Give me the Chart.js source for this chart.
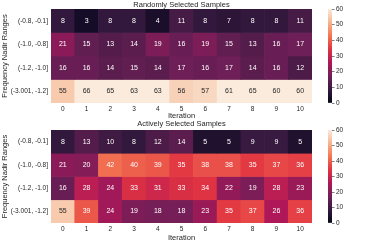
<!DOCTYPE html>
<html>
<head>
<meta charset="utf-8">
<script src="https://cdn.jsdelivr.net/npm/chart.js@4"></script>
<style>
  body { margin: 0; background: #fff; width: 378px; height: 243px; position: relative; overflow: hidden; }
  canvas { position: absolute; }
</style>
</head>
<body>
<canvas id="randomChart" width="320" height="125" style="left:0;top:0"></canvas>
<canvas id="randomBar" width="58" height="125" style="left:320px;top:0"></canvas>
<canvas id="activeChart" width="320" height="125" style="left:0;top:118px"></canvas>
<canvas id="activeBar" width="58" height="125" style="left:320px;top:118px"></canvas>
<script>
const iterations = ['0', '1', '2', '3', '4', '5', '6', '7', '8', '9', '10'];
const rowLabels = ['(-0.8, -0.1]', '(-1.0, -0.8]', '(-1.2, -1.0]', '(-3.001, -1.2]'];

const randomCounts = [
    [8, 3, 8, 8, 4, 11, 8, 7, 8, 8, 11],
    [21, 15, 13, 14, 19, 16, 19, 15, 13, 16, 17],
    [16, 16, 14, 15, 14, 17, 16, 17, 14, 16, 12],
    [55, 66, 65, 63, 63, 56, 57, 61, 65, 60, 60]
];

const activeCounts = [
    [8, 13, 10, 8, 12, 14, 5, 5, 9, 9, 5],
    [21, 20, 42, 40, 39, 35, 38, 38, 35, 37, 36],
    [16, 28, 24, 33, 31, 33, 34, 22, 19, 28, 23],
    [55, 39, 24, 19, 18, 18, 23, 35, 37, 26, 36]
];

const colorTicks = [0, 10, 20, 30, 40, 50, 60];
const vmin = 0;
const vmax = 60;

// rocket colormap, sampled
const rocketStops = ['#03051a', '#35193e', '#701f57', '#ad1759', '#e13342', '#f37651', '#f6b48f', '#faebdd'];
const textColor = '#262626';

Chart.defaults.font.family = 'Liberation Sans';
Chart.defaults.color = textColor;
Chart.defaults.animation = false;

function hexToRgb(h) {
    return [parseInt(h.slice(1, 3), 16), parseInt(h.slice(3, 5), 16), parseInt(h.slice(5, 7), 16)];
}

function rocketRgb(t) {
    t = Math.min(1, Math.max(0, t));
    const pos = t * (rocketStops.length - 1);
    const i = Math.min(rocketStops.length - 2, Math.floor(pos));
    const f = pos - i;
    const a = hexToRgb(rocketStops[i]);
    const b = hexToRgb(rocketStops[i + 1]);
    return a.map((c, k) => Math.round(c + (b[k] - c) * f));
}

function rocket(v) {
    const c = rocketRgb((v - vmin) / (vmax - vmin));
    return 'rgb(' + c.join(',') + ')';
}

function luminance(rgb) {
    const lin = rgb.map(c => {
        c = c / 255;
        return c <= 0.03928 ? c / 12.92 : Math.pow((c + 0.055) / 1.055, 2.4);
    });
    return 0.2126 * lin[0] + 0.7152 * lin[1] + 0.0722 * lin[2];
}

const annotate = {
    id: 'annotate',
    afterDatasetsDraw(chart) {
        const ctx = chart.ctx;
        ctx.save();
        ctx.font = '7px "Liberation Sans"';
        ctx.textAlign = 'center';
        ctx.textBaseline = 'middle';
        chart.data.datasets.forEach((ds, di) => {
            const meta = chart.getDatasetMeta(di);
            meta.data.forEach((el, i) => {
                const v = ds.counts[i];
                const lum = luminance(rocketRgb((v - vmin) / (vmax - vmin)));
                ctx.fillStyle = lum > 0.408 ? textColor : '#ffffff';
                ctx.fillText(String(v), el.x, (el.y + el.base) / 2);
            });
        });
        ctx.restore();
    }
};

function heatmap(id, title, counts, titlePad, xHeight, xTitlePad) {
    const datasets = counts.map((row, r) => ({
        label: rowLabels[r],
        data: row.map(() => 1),
        counts: row,
        backgroundColor: row.map(v => rocket(v)),
        borderWidth: 0,
        barPercentage: 1,
        categoryPercentage: 1
    }));

    return new Chart(document.getElementById(id), {
        type: 'bar',
        data: { labels: iterations, datasets: datasets },
        options: {
            responsive: false,
            layout: { padding: { left: 0, right: 8, top: 0, bottom: 0 } },
            plugins: {
                legend: { display: false },
                tooltip: { enabled: false },
                title: {
                    display: true,
                    text: title,
                    fullSize: false,
                    color: textColor,
                    font: { size: 7.5, weight: 'normal' },
                    padding: titlePad
                }
            },
            scales: {
                x: {
                    stacked: true,
                    grid: { display: false, drawTicks: false },
                    border: { display: false },
                    ticks: { padding: 2, font: { size: 6.5 }, maxRotation: 0 },
                    title: { display: true, text: 'Iteration', font: { size: 7.5 }, padding: { top: 0, bottom: xTitlePad } },
                    afterFit(scale) { scale.height = xHeight; }
                },
                y: {
                    stacked: true,
                    reverse: true,
                    min: 0,
                    max: rowLabels.length,
                    grid: { display: false, drawTicks: false },
                    border: { display: false },
                    afterBuildTicks(scale) {
                        scale.ticks = rowLabels.map((l, i) => ({ value: i + 0.5 }));
                    },
                    ticks: {
                        padding: 3,
                        font: { size: 6.5 },
                        callback: v => rowLabels[Math.floor(v)]
                    },
                    title: { display: true, text: 'Frequency Nadir Ranges', font: { size: 7.5 }, padding: { top: 0.5, bottom: 0 } },
                    afterFit(scale) { scale.width = 51; }
                }
            }
        },
        plugins: [annotate]
    });
}

function colorbar(id, padTop, padBottom) {
    return new Chart(document.getElementById(id), {
        type: 'bar',
        data: {
            labels: [''],
            datasets: [{
                data: [[vmin, vmax]],
                borderWidth: 0,
                barPercentage: 1,
                categoryPercentage: 1,
                backgroundColor(c) {
                    const area = c.chart.chartArea;
                    if (!area) return rocket(vmin);
                    const g = c.chart.ctx.createLinearGradient(0, area.bottom, 0, area.top);
                    for (let k = 0; k <= 40; k++) {
                        g.addColorStop(k / 40, rocket(vmin + (vmax - vmin) * k / 40));
                    }
                    return g;
                }
            }]
        },
        options: {
            responsive: false,
            layout: { padding: { left: 8, right: 0, top: padTop, bottom: padBottom } },
            plugins: { legend: { display: false }, tooltip: { enabled: false } },
            scales: {
                x: { display: false },
                y: {
                    position: 'right',
                    min: vmin,
                    max: vmax,
                    afterBuildTicks(scale) {
                        scale.ticks = colorTicks.map(v => ({ value: v }));
                    },
                    grid: { drawOnChartArea: false, drawTicks: true, tickLength: 2.5, color: textColor, tickWidth: 0.6 },
                    border: { display: false },
                    ticks: { padding: 1.5, font: { size: 6.5 } },
                    afterFit(scale) { scale.width = 46; }
                }
            }
        }
    });
}

heatmap('randomChart', 'Randomly Selected Samples', randomCounts, { top: 0, bottom: 0 }, 22, 4.5);
heatmap('activeChart', 'Actively Selected Samples', activeCounts, { top: 1.8, bottom: 1.2 }, 20, 0.5);
colorbar('randomBar', 9, 22);
colorbar('activeBar', 12, 20);
</script>
</body>
</html>
